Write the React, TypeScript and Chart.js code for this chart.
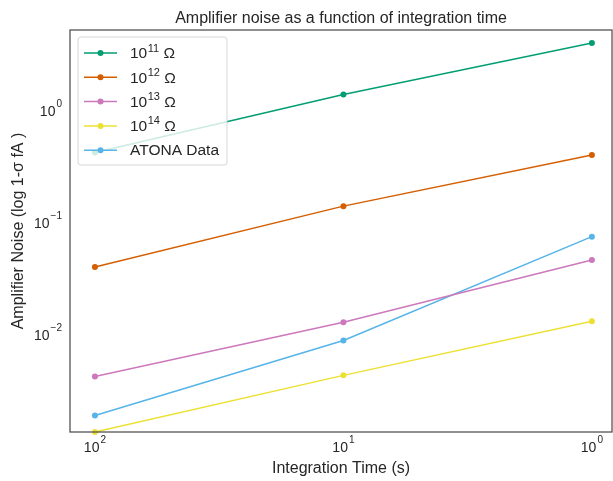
import React, { useEffect, useRef } from "react";
import { Chart, registerables } from "chart.js";

Chart.register(...registerables);

const times = [100, 10, 1];
const labels = ["10^11 Ω", "10^12 Ω", "10^13 Ω", "10^14 Ω", "ATONA Data"];
const r11 = [0.4, 1.32, 3.8];
const r12 = [0.038, 0.133, 0.38];
const r13 = [0.0040, 0.0122, 0.044];
const r14 = [0.00128, 0.0041, 0.0125];
const atona = [0.0018, 0.0084, 0.071];
const colors = ["#029e73", "#d55e00", "#cc78bc", "#ece133", "#56b4e9"];
const yTicks = [0.01, 0.1, 1];
const xTicks = [100, 10, 1];
const titleText = "Amplifier noise as a function of integration time";
const xTitle = "Integration Time (s)";
const yTitle = "Amplifier Noise (log 1-σ fA )";

const FONT = "'Liberation Sans', Arial, sans-serif";
const TXT = "#262626";

function powParts(v: number) {
  const e = Math.round(Math.log10(v));
  return { base: "10", sup: e < 0 ? "−" + String(-e) : String(e) };
}

function drawPow(ctx: any, v: number, x: number, y: number, align: "right" | "center") {
  const { base, sup } = powParts(v);
  ctx.font = `14px ${FONT}`;
  const wb = ctx.measureText(base).width;
  ctx.font = `10px ${FONT}`;
  const ws = ctx.measureText(sup).width;
  const total = wb + 1 + ws;
  const left = align === "right" ? x - total : x - total / 2;
  ctx.textAlign = "left";
  ctx.textBaseline = "middle";
  ctx.font = `14px ${FONT}`;
  ctx.fillText(base, left, y + 4);
  ctx.font = `10px ${FONT}`;
  ctx.fillText(sup, left + wb + 1, y - 4);
}

const textPlugin = {
  id: "texts",
  afterDraw(chart: any) {
    const { ctx, chartArea: a, scales } = chart;
    ctx.save();
    ctx.strokeStyle = "#4d4d4d";
    ctx.lineWidth = 1.25;
    ctx.strokeRect(a.left, a.top, a.right - a.left, a.bottom - a.top);
    ctx.fillStyle = TXT;
    ctx.font = `16px ${FONT}`;
    ctx.textAlign = "center";
    ctx.textBaseline = "middle";
    ctx.fillText(titleText, (a.left + a.right) / 2, a.top - 11);
    ctx.fillText(xTitle, (a.left + a.right) / 2, a.bottom + 37);
    ctx.save();
    ctx.translate(19, (a.top + a.bottom) / 2);
    ctx.rotate(-Math.PI / 2);
    ctx.fillText(yTitle, 0, 0);
    ctx.restore();
    xTicks.forEach((v) => drawPow(ctx, v, scales.x.getPixelForValue(v), a.bottom + 12, "center"));
    yTicks.forEach((v) => drawPow(ctx, v, a.left - 8, scales.y.getPixelForValue(v), "right"));
    ctx.restore();
  },
};

const legendPlugin = {
  id: "insideLegend",
  afterDatasetsDraw(chart: any) {
    const { ctx, chartArea: a } = chart;
    const x0 = a.left + 8;
    const y0 = a.top + 7;
    const w = 149;
    const rowH = 24.3;
    const h = 128;
    ctx.save();
    ctx.beginPath();
    const r = 3;
    ctx.moveTo(x0 + r, y0);
    ctx.arcTo(x0 + w, y0, x0 + w, y0 + h, r);
    ctx.arcTo(x0 + w, y0 + h, x0, y0 + h, r);
    ctx.arcTo(x0, y0 + h, x0, y0, r);
    ctx.arcTo(x0, y0, x0 + w, y0, r);
    ctx.closePath();
    ctx.fillStyle = "rgba(255,255,255,0.8)";
    ctx.fill();
    ctx.strokeStyle = "rgba(204,204,204,0.8)";
    ctx.lineWidth = 1;
    ctx.stroke();
    chart.data.datasets.forEach((ds: any, i: number) => {
      const cy = y0 + 16 + i * rowH;
      ctx.strokeStyle = ds.borderColor;
      ctx.lineWidth = 1.5;
      ctx.beginPath();
      ctx.moveTo(x0 + 6, cy);
      ctx.lineTo(x0 + 39, cy);
      ctx.stroke();
      ctx.fillStyle = ds.borderColor;
      ctx.beginPath();
      ctx.arc(x0 + 22.5, cy, 3, 0, Math.PI * 2);
      ctx.fill();
      ctx.fillStyle = TXT;
      ctx.textBaseline = "middle";
      ctx.textAlign = "left";
      const m = /^(\d+)\^(\d+)(.*)$/.exec(ds.label);
      let tx = x0 + 52;
      const ty = cy + 1;
      if (m) {
        ctx.font = `15.5px ${FONT}`;
        ctx.fillText(m[1], tx, ty);
        tx += ctx.measureText(m[1]).width + 0.5;
        ctx.font = `11px ${FONT}`;
        ctx.fillText(m[2], tx, ty - 5.5);
        tx += ctx.measureText(m[2]).width;
        ctx.font = `15.5px ${FONT}`;
        ctx.fillText(m[3], tx, ty);
      } else {
        ctx.font = `15.5px ${FONT}`;
        ctx.fillText(ds.label, tx, ty);
      }
    });
    ctx.restore();
  },
};

export default function App() {
  const ref = useRef<HTMLCanvasElement>(null);
  useEffect(() => {
    const series = [r11, r12, r13, r14, atona];
    const chart = new Chart(ref.current!, {
      type: "line",
      data: {
        datasets: series.map((s, i) => ({
          label: labels[i],
          data: s.map((v, j) => ({ x: times[j], y: v })),
          borderColor: colors[i],
          backgroundColor: colors[i],
          borderWidth: 1.5,
          pointRadius: 3,
          pointBorderWidth: 0,
          pointBackgroundColor: colors[i],
          tension: 0,
          clip: false as any,
        })),
      },
      options: {
        responsive: false,
        animation: false,
        layout: { autoPadding: false, padding: { left: 0, right: 1, top: 30, bottom: 0 } },
        plugins: {
          legend: { display: false },
          tooltip: { enabled: false },
          title: { display: false },
        },
        scales: {
          x: {
            type: "logarithmic",
            reverse: true,
            min: 0.83,
            max: 126,
            grid: { display: false, drawTicks: false },
            border: { display: false },
            afterBuildTicks: (s: any) => {
              s.ticks = xTicks.map((v) => ({ value: v }));
            },
            afterFit: (s: any) => {
              s.height = 49;
            },
            ticks: { display: false },
          },
          y: {
            type: "logarithmic",
            min: 0.00128,
            max: 4.97,
            grid: { display: false, drawTicks: false },
            border: { display: false },
            afterBuildTicks: (s: any) => {
              s.ticks = yTicks.map((v) => ({ value: v }));
            },
            afterFit: (s: any) => {
              s.width = 70;
            },
            ticks: { display: false },
          },
        },
      },
      plugins: [textPlugin, legendPlugin],
    });
    return () => chart.destroy();
  }, []);
  return (
    <div style={{ position: "fixed", left: 0, top: 0, width: 613, height: 481, background: "#fff" }}>
      <canvas ref={ref} width={613} height={481} style={{ display: "block" }} />
    </div>
  );
}
